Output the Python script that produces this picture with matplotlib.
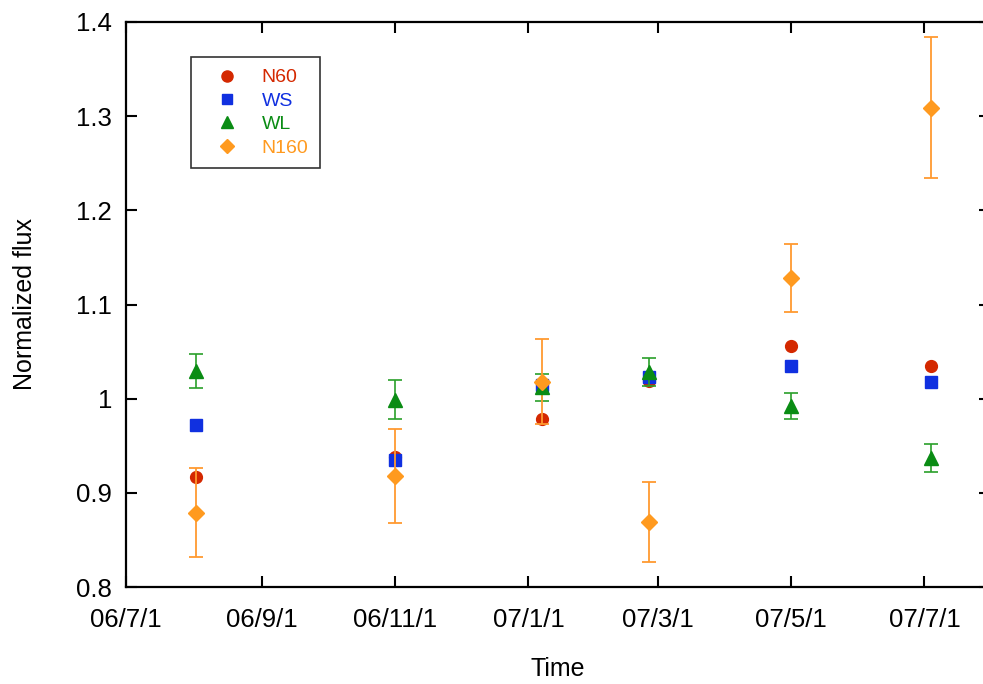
import datetime as dt
import matplotlib
matplotlib.use("Agg")
import matplotlib.pyplot as plt
import matplotlib.dates as mdates
from matplotlib.lines import Line2D
from matplotlib.ticker import FuncFormatter, MultipleLocator

plt.rcParams['font.family'] = ['Liberation Sans', 'DejaVu Sans']

# observation dates
dates = ["2006-08-02", "2006-11-01", "2007-01-07", "2007-02-25", "2007-05-01", "2007-07-04"]

n60 = [0.917, 0.938, 0.978, 1.019, 1.056, 1.035]
ws = [0.972, 0.935, 1.015, 1.023, 1.035, 1.018]
wl = [1.029, 0.999, 1.012, 1.028, 0.992, 0.937]
wl_err = [0.018, 0.021, 0.014, 0.015, 0.014, 0.015]
n160 = [0.879, 0.918, 1.018, 0.869, 1.128, 1.309]
n160_err = [0.047, 0.050, 0.045, 0.042, 0.036, 0.075]

tick_dates = ["2006-07-01", "2006-09-01", "2006-11-01", "2007-01-01",
              "2007-03-01", "2007-05-01", "2007-07-01"]

x = [dt.datetime.strptime(d, "%Y-%m-%d") for d in dates]
xt = [dt.datetime.strptime(d, "%Y-%m-%d") for d in tick_dates]

c_n60 = '#d42800'
c_ws = '#1030e0'
c_wl = '#0a8c14'
c_n160 = '#ff9a1f'

fig = plt.figure(figsize=(9.83, 6.84), dpi=100)
ax = fig.add_axes([126 / 983, 1 - 587 / 684, 864 / 983, 565 / 684])

ax.plot(x, n60, 'o', color=c_n60, ms=8.5, ls='none')
ax.plot(x, ws, 's', color=c_ws, ms=8, ls='none')
ax.errorbar(x, wl, yerr=wl_err, fmt='^', color=c_wl, ecolor='#2aa02a',
            ms=10, capsize=5, elinewidth=1.2, capthick=1.2)
ax.errorbar(x, n160, yerr=n160_err, fmt='D', color=c_n160, ecolor='#ff9a30',
            ms=8, capsize=5, elinewidth=1.3, capthick=1.3)

ax.set_xlim(dt.datetime(2006, 7, 1), dt.datetime(2007, 7, 31))
ax.set_ylim(0.8, 1.4)
ax.set_xticks(xt)


def date_label(v, p):
    d = mdates.num2date(v)
    return "%02d/%d/%d" % (d.year % 100, d.month, d.day)


ax.xaxis.set_major_formatter(FuncFormatter(date_label))
ax.yaxis.set_major_locator(MultipleLocator(0.1))
ax.yaxis.set_major_formatter(FuncFormatter(lambda v, p: "%g" % round(v, 2)))

ax.tick_params(direction='in', length=8, width=1.5, labelsize=18.5,
               top=True, right=True)
ax.tick_params(axis='x', pad=15)
ax.tick_params(axis='y', pad=10)
for s in ax.spines.values():
    s.set_linewidth(1.6)

ax.set_xlabel("Time", fontsize=18, labelpad=18)
ax.set_ylabel("Normalized flux", fontsize=18, labelpad=28)

handles = [
    Line2D([], [], marker='o', color=c_n60, ls='none', ms=8),
    Line2D([], [], marker='s', color=c_ws, ls='none', ms=7.5),
    Line2D([], [], marker='^', color=c_wl, ls='none', ms=9),
    Line2D([], [], marker='D', color=c_n160, ls='none', ms=7),
]
leg = ax.legend(handles, ["N60", "WS", "WL", "N160"], loc='upper left',
                bbox_to_anchor=(0.075, 0.938), borderaxespad=0, fancybox=False,
                edgecolor='black', fontsize=14, handletextpad=0.55,
                labelspacing=0.3, borderpad=0.6, handlelength=2.5,
                labelcolor=[c_n60, c_ws, c_wl, c_n160])
leg.get_frame().set_linewidth(1.2)

fig.savefig("out.png", dpi=100)
